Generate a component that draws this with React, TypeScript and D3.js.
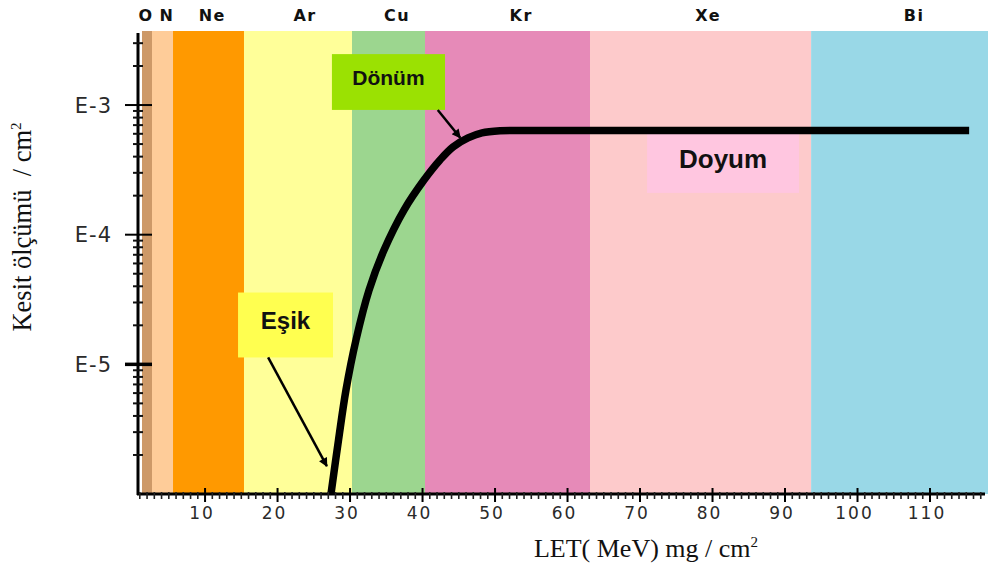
import React from "react";
import * as d3 from "d3";

// ---- Data ----
const bandNames = ["O", "N", "Ne", "Ar", "Cu", "Kr", "Xe", "Bi"];
const bandStarts = [1.3, 2.68, 5.58, 15.37, 30.27, 40.34, 63.1, 93.6];
const bandEnds = [2.68, 5.58, 15.37, 30.27, 40.34, 63.1, 93.6, 118];
const bandColors = ["#CD9968", "#FECC99", "#FF9900", "#FFFF99", "#9CD68F", "#E68AB8", "#FDCACB", "#99D8E7"];
const bandLabelPos = [1.85, 4.75, 11.0, 23.8, 36.5, 53.6, 79.4, 107.8];

const xTickValues = [10, 20, 30, 40, 50, 60, 70, 80, 90, 100, 110];
const yMajorValues = [1e-3, 1e-4, 1e-5];
const yMajorLabels = ["E-3", "E-4", "E-5"];

const curveLET = [27.37, 28.41, 29.44, 30.82, 32.62, 34.69, 37.44, 40.2, 42.41, 44.2, 46.27, 48.2, 50.69, 54.14, 115.4];
const curveSigma = [1.0e-6, 2.61e-6, 6.34e-6, 1.54e-5, 3.74e-5, 7.62e-5, 1.55e-4, 2.64e-4, 3.77e-4, 4.75e-4, 5.58e-4, 6.1e-4, 6.33e-4, 6.36e-4, 6.36e-4];

const noteTexts = ["Dönüm", "Eşik", "Doyum"];
const noteColors = ["#9BE102", "#FFFF50", "#FFC6E0"];
const noteFontSizes = [21, 24, 26];
const noteBoxX0 = [27.5, 14.55, 70.97];
const noteBoxX1 = [43.1, 27.65, 91.93];
const noteBoxY0 = [2.47e-3, 3.58e-5, 5.98e-4];
const noteBoxY1 = [9.17e-4, 1.13e-5, 2.1e-4];
const arrowFromLET = [42.1, 18.7, NaN];
const arrowFromSigma = [9.17e-4, 1.13e-5, NaN];
const arrowToLET = [45.2, 26.8, NaN];
const arrowToSigma = [5.6e-4, 1.64e-6, NaN];

const xTitle = "LET( MeV) mg / cm";
const yTitle = "Kesit ölçümü  / cm";

export default function App() {
  const W = 988, H = 568;
  const x = d3.scaleLinear().domain([0.75, 118]).range([138, 988]);
  const y = d3.scaleLog().domain([1e-6, Math.pow(10, -2.429)]).range([494, 31]);
  const plotTop = 31, axisY = 494, axisX = 138;

  const minorX = d3.range(1, 118, 1).filter((v) => v % 10 !== 0);
  const minorY: number[] = [];
  for (let e = -6; e <= -3; e++) {
    for (let m = 2; m <= 9; m++) {
      const v = m * Math.pow(10, e);
      if (v < y.domain()[1]) minorY.push(v);
    }
  }

  const line = d3
    .line<number>()
    .x((_, i) => x(curveLET[i]))
    .y((_, i) => y(curveSigma[i]))
    .curve(d3.curveCatmullRom.alpha(0.5));

  const sans = "'Liberation Sans', Arial, sans-serif";
  const wide = "'DejaVu Sans', Verdana, sans-serif";
  const serif = "'Liberation Serif', 'Times New Roman', serif";

  return (
    <svg width={W} height={H} style={{ position: "absolute", left: 0, top: 0, background: "#fff" }}>
      <defs>
        <marker id="ah" viewBox="0 0 10 10" refX="9" refY="5" markerWidth="12" markerHeight="9" markerUnits="userSpaceOnUse" orient="auto">
          <path d="M0,0 L10,5 L0,10 Z" fill="#000" />
        </marker>
      </defs>
      <rect x={0} y={0} width={W} height={H} fill="#fff" />
      {bandNames.map((n, i) => (
        <rect key={n} x={x(bandStarts[i])} y={plotTop} width={x(bandEnds[i]) - x(bandStarts[i])} height={axisY - plotTop} fill={bandColors[i]} />
      ))}
      {bandNames.map((n, i) => (
        <text key={"l" + n} x={x(bandLabelPos[i])} y={21} textAnchor="middle" fontFamily={wide} fontWeight="bold" fontSize={16} letterSpacing={1.5} fill="#111">
          {n}
        </text>
      ))}

      {noteTexts.map((t, i) => (
        <g key={t}>
          <rect x={x(noteBoxX0[i])} y={y(noteBoxY0[i])} width={x(noteBoxX1[i]) - x(noteBoxX0[i])} height={y(noteBoxY1[i]) - y(noteBoxY0[i])} fill={noteColors[i]} />
          <text x={(x(noteBoxX0[i]) + x(noteBoxX1[i])) / 2} y={(y(noteBoxY0[i]) + y(noteBoxY1[i])) / 2 - 5} dy="0.36em" textAnchor="middle" fontFamily={sans} fontWeight="bold" fontSize={noteFontSizes[i]} fill="#111">
            {t}
          </text>
        </g>
      ))}

      <path d={line(curveLET) || ""} fill="none" stroke="#000" strokeWidth={7.5} />

      {noteTexts.map((t, i) =>
        isNaN(arrowFromLET[i]) ? null : (
          <line key={"a" + t} x1={x(arrowFromLET[i])} y1={y(arrowFromSigma[i])} x2={x(arrowToLET[i])} y2={y(arrowToSigma[i])} stroke="#000" strokeWidth={2.5} markerEnd="url(#ah)" />
        )
      )}

      <line x1={axisX} y1={33} x2={axisX} y2={axisY + 1} stroke="#000" strokeWidth={3} />
      <line x1={axisX - 1} y1={axisY} x2={985} y2={axisY} stroke="#000" strokeWidth={3} />

      {minorX.map((v) => (
        <line key={"mx" + v} x1={x(v)} x2={x(v)} y1={axisY - 2} y2={axisY + 5} stroke="#222" strokeWidth={1.6} />
      ))}
      {xTickValues.map((v) => (
        <g key={"tx" + v}>
          <line x1={x(v)} x2={x(v)} y1={axisY - 6} y2={axisY + 8} stroke="#000" strokeWidth={2} />
          <text x={x(v) - 3} y={519} textAnchor="middle" fontFamily={wide} fontSize={17} letterSpacing={2} fill="#2a2a2a">
            {v}
          </text>
        </g>
      ))}

      {minorY.map((v, i) => (
        <line key={"my" + i} x1={axisX - 5} x2={axisX + 5} y1={y(v)} y2={y(v)} stroke="#111" strokeWidth={2} />
      ))}
      {yMajorValues.map((v, i) => (
        <g key={"ty" + i}>
          <line x1={axisX - 13} x2={axisX + 14} y1={y(v)} y2={y(v)} stroke="#000" strokeWidth={i === 2 ? 3.5 : 2} />
          <text x={112} y={y(v)} dy="0.36em" textAnchor="end" fontFamily={wide} fontSize={21} letterSpacing={1} fill="#2a2a2a">
            {yMajorLabels[i]}
          </text>
        </g>
      ))}

      <text x={646} y={557} textAnchor="middle" fontFamily={serif} fontSize={26} fill="#111">
        {xTitle}
        <tspan dy={-10} fontSize={15}>2</tspan>
      </text>
      <text transform="translate(31,227) rotate(-90)" textAnchor="middle" fontFamily={serif} fontSize={26.5} fill="#111" style={{ whiteSpace: "pre" }}>
        {yTitle}
        <tspan dy={-10} fontSize={15}>2</tspan>
      </text>
    </svg>
  );
}
